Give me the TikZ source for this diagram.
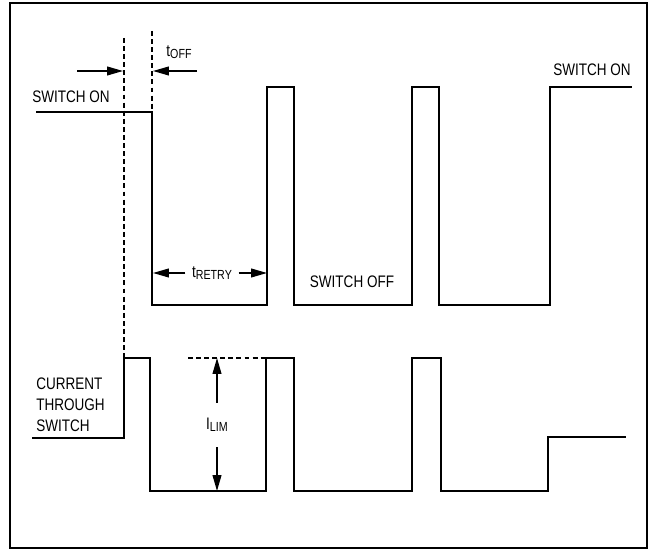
\documentclass[tikz,border=0pt]{standalone}
\usepackage{fontspec}
\setmainfont{Liberation Sans}[FakeStretch=0.81]
\usetikzlibrary{positioning,arrows.meta}
\newcommand{\lowpart}[1]{\raisebox{-0.25ex}{\fontsize{7.5}{8}\selectfont #1}}

\begin{document}
\begin{tikzpicture}[x=0.02cm,y=-0.02cm,>={Triangle[length=9pt,width=5pt]},
  wave/.style={line width=0.75pt},
  guide/.style={line width=0.6pt,dash pattern=on 2.8pt off 1.8pt},
  dim/.style={line width=0.75pt},
  lbl/.style={inner sep=0pt,font=\fontsize{9.5}{11.9}\selectfont}]
  \useasboundingbox (0,0) rectangle (650,550);
  \draw[line width=1.2pt] (10,3) rectangle (647,548);
  % switch state
  \draw[wave] (36,112) -- (152,112) -- (152,305) -- (267,305) -- (267,87) -- (294,87)
    -- (294,305) -- (412,305) -- (412,87) -- (439,87) -- (439,305) -- (550,305)
    -- (550,87) -- (632,87);
  % current through switch
  \draw[wave] (32,438) -- (124,438) -- (124,358) -- (150,358) -- (150,491) -- (266,491)
    -- (266,358) -- (294,358) -- (294,491) -- (412,491) -- (412,358) -- (441,358)
    -- (441,491) -- (548,491) -- (548,437) -- (626,437);
  % timing marks
  \coordinate (limtop) at (217,358);
  \coordinate (limbot) at (217,491);
  \coordinate (offa) at (123,71);
  \coordinate (offb) at (153,71);
  \coordinate (retrya) at (153,273);
  \coordinate (retryb) at (267,273);
  \draw[guide] (124,38) -- (124,358);
  \draw[guide] (152,31) -- (152,112);
  \draw[guide] (188,358) -- (266,358);
  \draw[dim,->] (77,71) -- (offa);
  \draw[dim,->] (197,71) -- (offb);
  \node[lbl] (toff) at (179,52) {t\lowpart{OFF}};
  \node[lbl,minimum width=30pt] (tretry) at (212,273) {t\lowpart{RETRY}};
  \draw[dim,->] (tretry) -- (retrya);
  \draw[dim,->] (tretry) -- (retryb);
  \node[lbl,minimum height=25pt] (ilim) at (217,425) {I\lowpart{LIM}};
  \draw[dim,->] (ilim) -- (limtop);
  \draw[dim,->] (ilim) -- (limbot);
  % labels
  \node[lbl,anchor=west] (onleft) at (32,97) {SWITCH ON};
  \node[lbl,anchor=east] (onright) at (631,70) {SWITCH ON};
  \node[lbl] (off) at (352,282) {SWITCH OFF};
  \node[lbl,anchor=west,align=left] (current) at (36,405) {CURRENT\\THROUGH\\SWITCH};
\end{tikzpicture}
\end{document}
